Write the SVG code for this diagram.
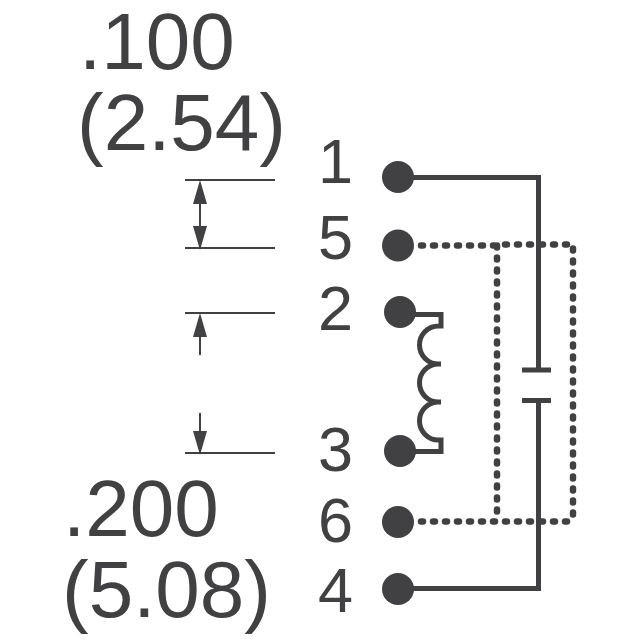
<svg xmlns="http://www.w3.org/2000/svg" width="640" height="640" viewBox="0 0 640 640">
<style>
text{font-family:"Liberation Sans",Arial,sans-serif;fill:#414042}
.dim{font-size:80px}
.pin{font-size:63px}
.dimline{stroke:#414042;stroke-width:2;fill:none}
.wire{stroke:#414042;stroke-width:5;fill:none}
.dash{stroke:#414042;stroke-width:6.500;fill:none;stroke-dasharray:2 10;stroke-linecap:round}
.dot{fill:#414042}
.head{fill:#414042}
</style>
<rect width="640" height="640" fill="#fff"/>
<g id="dimensions">
<text class="dim" x="79" y="69">.100</text>
<text class="dim" x="77" y="150">(2.54)</text>
<text class="dim" x="63" y="536">.200</text>
<text class="dim" x="62" y="616.500">(5.08)</text>
<path class="dimline" d="M185 180H275M185 248H275M185 313H275M185 453H275M200 200V230M200 335V355M200 413V433"/>
<path class="head" d="M200 180L207 204H193ZM200 250L193 226H207ZM200 313L207 337H193ZM200 455L193 431H207Z"/>
</g>
<g id="connectors">
<path class="wire" d="M398 177.500H538.500V370M538.500 400V588.500H398"/>
<path class="wire" d="M522 370H551M522 400.500H551"/>
<path class="wire" d="M400 314.500H441V326H438.500A19 19 0 0 0 438.500 364H441H438.500A19 19 0 0 0 438.500 402H441H438.500A19 19 0 0 0 438.500 440H441V451.500H400"/>
<path class="dash" d="M421 245.500H497M497 245.500V517"/>
<path class="dash" d="M505 244.500H573V521M421 521.500H573"/>
</g>
<g id="pin-1"><circle class="dot" cx="398" cy="177" r="16"/><text class="pin" x="318" y="183">1</text></g>
<g id="pin-5"><circle class="dot" cx="398" cy="245.500" r="16"/><text class="pin" x="318" y="259">5</text></g>
<g id="pin-2"><circle class="dot" cx="400" cy="312" r="16"/><text class="pin" x="318" y="330">2</text></g>
<g id="pin-3"><circle class="dot" cx="400" cy="451" r="16"/><text class="pin" x="318" y="471">3</text></g>
<g id="pin-6"><circle class="dot" cx="398" cy="522" r="16"/><text class="pin" x="318" y="541.500">6</text></g>
<g id="pin-4"><circle class="dot" cx="398" cy="589" r="16"/><text class="pin" x="318" y="611.500">4</text></g>
</svg>
